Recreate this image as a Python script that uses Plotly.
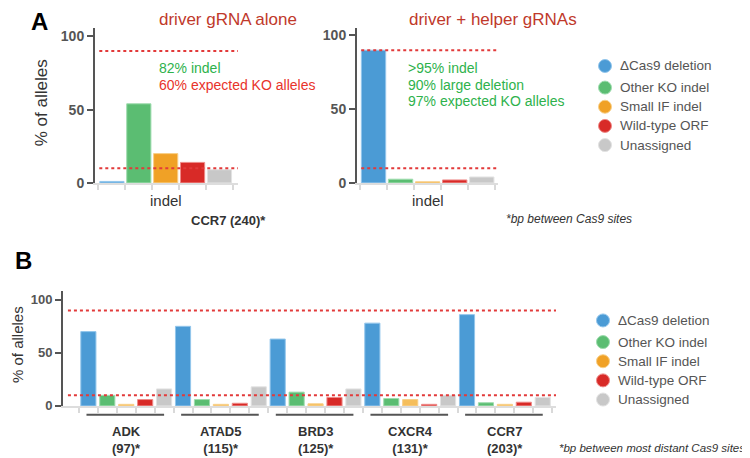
import plotly.graph_objects as go

# ---------------- data ----------------
categories = ["ΔCas9 deletion", "Other KO indel", "Small IF indel", "Wild-type ORF", "Unassigned"]
a_driver_alone = [1, 54, 20, 14, 9]
a_driver_helper = [90, 2.5, 0.7, 2, 4]

genes = ["ADK", "ATAD5", "BRD3", "CXCR4", "CCR7"]
bp_between = [97, 115, 125, 131, 203]
b_deletion = [70, 75, 63, 78, 86]
b_other_ko = [10, 6, 13, 7, 3]
b_small_if = [1.5, 1.5, 2, 6, 1.5]
b_wild_type = [6, 2.5, 8, 1.5, 3.5]
b_unassigned = [16, 18, 16, 10, 8]
b_series = [b_deletion, b_other_ko, b_small_if, b_wild_type, b_unassigned]

threshold_lines = [90, 10]
y_ticks = [0, 50, 100]

# ---------------- styles ----------------
fill = ["#4b9bd5", "#5bbd72", "#f0a126", "#d82a27", "#c8c8c8"]
fill_b = ["#4b9bd5", "#5bbd72", "#f5be5c", "#d82a27", "#c8c8c8"]
edge = ["#93c6ec", "#9edcae", "#f8cf87", "#ee8a88", "#e2e2e2"]
W, H = 750, 458
FONT = "Liberation Sans, Arial, sans-serif"
AX = "#555555"


def px(x):
    return x / W


def py(y):
    return 1 - y / H


fig = go.Figure()

# Panel A bars
for vals, xa, ya in [(a_driver_alone, "x", "y"), (a_driver_helper, "x2", "y2")]:
    fig.add_trace(go.Bar(
        x=categories, y=vals, xaxis=xa, yaxis=ya,
        marker=dict(color=fill, line=dict(color=edge, width=1)),
        showlegend=False, hoverinfo="skip"))

# Panel B bars
b_cats = [f"{g}|{c}" for g in genes for c in categories]
for ci, (c, vals) in enumerate(zip(categories, b_series)):
    fig.add_trace(go.Bar(
        x=[f"{g}|{c}" for g in genes], y=vals, xaxis="x3", yaxis="y3",
        marker=dict(color=fill_b[ci], line=dict(color=edge[ci], width=1)),
        width=0.8, showlegend=False, hoverinfo="skip", name=c))

yA = [py(178), py(20)]
common_x = dict(type="category", showticklabels=False, ticks="outside", tickson="boundaries",
                ticklen=5, tickwidth=1.5, tickcolor="#d9d9d9", showline=True, linecolor="#dddddd",
                linewidth=2, showgrid=False, zeroline=False, fixedrange=True)
tick_text = [f"<b>{v}</b>" for v in y_ticks]
common_y = dict(tickvals=y_ticks, ticktext=tick_text, ticks="outside", ticklen=6, tickwidth=2,
                tickcolor=AX, showline=True, linecolor=AX, linewidth=2, showgrid=False,
                zeroline=False, tickfont=dict(family=FONT, size=14, color=AX))

fig.update_layout(
    width=W, height=H, margin=dict(l=0, r=0, t=0, b=0),
    paper_bgcolor="white", plot_bgcolor="white",
    barmode="overlay", bargap=0.1,
    font=dict(family=FONT),
    xaxis=dict(domain=[px(87), px(230)], anchor="y", range=[-0.63, 4.69], **common_x),
    yaxis=dict(domain=yA, anchor="x", range=[0, 106], **common_y),
    xaxis2=dict(domain=[px(349), px(490)], anchor="y2", range=[-0.61, 4.6], **common_x),
    yaxis2=dict(domain=yA, anchor="x2", range=[0, 105.3], **common_y),
    xaxis3=dict(domain=[px(55), px(548)], anchor="y3", range=[-1.34, 24.7],
                categoryorder="array", categoryarray=b_cats, **common_x),
    yaxis3=dict(domain=[py(405), py(288)], anchor="x3", range=[0, 108.3],
                **{**common_y, "tickfont": dict(family=FONT, size=13, color=AX)}),
)

shapes = []
# threshold lines
for xa, ya, x0 in [("x", "y", 0.03), ("x2", "y2", 0.03), ("x3", "y3", 0.01)]:
    for t in threshold_lines:
        shapes.append(dict(type="line", xref=f"{xa} domain", yref=ya, x0=x0, x1=1, y0=t, y1=t,
                           line=dict(color="#e23a3a", width=2, dash="dot")))
# group underlines in B
for gi, g in enumerate(genes):
    shapes.append(dict(type="line", xref="x3", yref="paper",
                       x0=gi * 5 - 0.1, x1=gi * 5 + 4.0, y0=py(414), y1=py(414),
                       line=dict(color="#555555", width=2)))

annotations = []


def ann(text, x, y, size=14, color="#333333", xanchor="center", yanchor="middle", angle=0,
        style="normal"):
    annotations.append(dict(text=text, x=px(x), y=py(y), xref="paper", yref="paper",
                            showarrow=False, xanchor=xanchor, yanchor=yanchor, textangle=angle,
                            borderpad=0,
                            font=dict(family=FONT, size=size, color=color, style=style)))


# Panel letters
ann("<b>A</b>", 31, 14, size=24, color="#000000")
ann("<b>B</b>", 15, 257, size=24, color="#000000")
# Titles
ann("driver gRNA alone", 220, 12, size=17, color="#c0392b")
ann("driver + helper gRNAs", 485, 12, size=17, color="#c0392b")
# In-plot notes
ann("82% indel", 150, 61, size=14, color="#2eb24c", xanchor="left")
ann("60% expected KO alleles", 150, 78, size=14, color="#e8332a", xanchor="left")
ann(">95% indel", 399, 61, size=14, color="#2eb24c", xanchor="left")
ann("90% large deletion", 399, 78, size=14, color="#2eb24c", xanchor="left")
ann("97% expected KO alleles", 399, 95, size=14, color="#2eb24c", xanchor="left")
# axis labels
ann("indel", 158, 196, size=15)
ann("indel", 420, 196, size=15)
ann("% of alleles", 33, 97, size=17, angle=-90)
ann("% of alleles", 9, 343, size=15, angle=-90)
ann("<b>CCR7 (240)*</b>", 220, 216, size=13)
ann("*bp between Cas9 sites", 497, 215, size=12, xanchor="left", style="italic")
ann("*bp between most distant Cas9 sites", 738, 448, size=11.5, xanchor="right", style="italic")

# Gene labels in B
for gi, (g, b) in enumerate(zip(genes, bp_between)):
    annotations.append(dict(text=f"<b>{g}<br>({b})*</b>", x=gi * 5 + 2, y=py(421), xref="x3",
                            yref="paper", showarrow=False, yanchor="top", align="center",
                            font=dict(family=FONT, size=13, color="#333333")))

# Legends (circle markers + labels)
for ly0, lx in [(59, 597), (318, 595)]:
    for i, c in enumerate(categories):
        yy = ly0 + (0 if i == 0 else 22 + (i - 1) * 19.5)
        shapes.append(dict(type="circle", xref="paper", yref="paper", xsizemode="pixel",
                           ysizemode="pixel", xanchor=px(lx), yanchor=py(yy),
                           x0=-6.5, x1=6.5, y0=-6.5, y1=6.5,
                           fillcolor=fill[i], line=dict(color=edge[i], width=1)))
        ann(c, lx + 14, yy, size=13.5, color="#555555", xanchor="left")

fig.update_layout(shapes=shapes, annotations=annotations)
fig.write_html("out.html")
